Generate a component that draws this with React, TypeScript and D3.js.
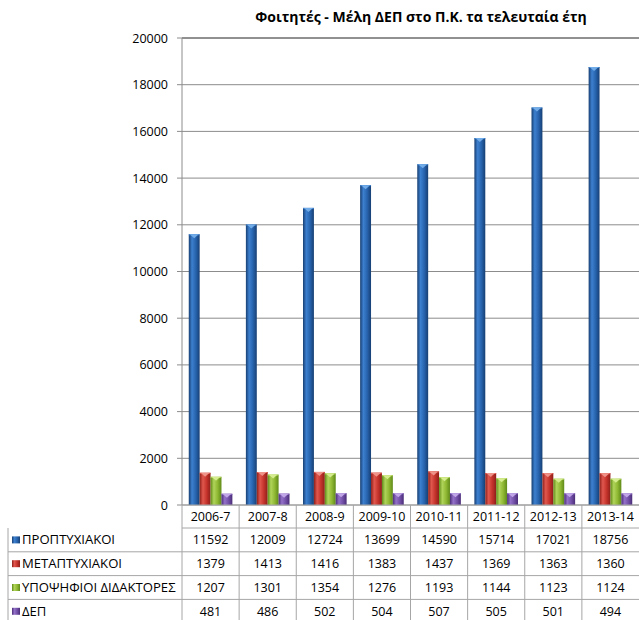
import React from "react";
import * as d3 from "d3";

const categories = ["2006-7", "2007-8", "2008-9", "2009-10", "2010-11", "2011-12", "2012-13", "2013-14"];
const seriesNames = ["ΠΡΟΠΤΥΧΙΑΚΟΙ", "ΜΕΤΑΠΤΥΧΙΑΚΟΙ", "ΥΠΟΨΗΦΙΟΙ ΔΙΔΑΚΤΟΡΕΣ", "ΔΕΠ"];
const undergrad = [11592, 12009, 12724, 13699, 14590, 15714, 17021, 18756];
const postgrad = [1379, 1413, 1416, 1383, 1437, 1369, 1363, 1360];
const phd = [1207, 1301, 1354, 1276, 1193, 1144, 1123, 1124];
const faculty = [481, 486, 502, 504, 507, 505, 501, 494];
const yTicks = [0, 2000, 4000, 6000, 8000, 10000, 12000, 14000, 16000, 18000, 20000];
const title = "Φοιτητές - Μέλη ΔΕΠ στο Π.Κ. τα τελευταία έτη";

const seriesValues = [undergrad, postgrad, phd, faculty];
const colors = [
  { dark: "#173f73", mid: "#2763ad", hi: "#3d80cf", light: "#79b3ec" },
  { dark: "#8e1f1a", mid: "#c4332c", hi: "#e0574e", light: "#f29a90" },
  { dark: "#5f8a18", mid: "#8fb833", hi: "#b0d45a", light: "#dcf197" },
  { dark: "#4a2d78", mid: "#7350a8", hi: "#9471c8", light: "#c7adec" },
];

const W = 639;
const H = 620;
const plotLeft = 182;
const plotRight = 639;
const plotTop = 38;
const plotBottom = 505;
const headerH = 23;
const rowH = 23.8;
const tableLeft = 8;
const font = "'Open Sans', sans-serif";

export default function App() {
  const x = d3.scaleBand<string>().domain(categories).range([plotLeft, plotRight]).paddingInner(0).paddingOuter(0);
  const y = d3.scaleLinear().domain([0, 20000]).range([plotBottom, plotTop]);
  const inner = d3.scaleBand<number>().domain([0, 1, 2, 3]).range([0, x.bandwidth()]).paddingInner(0).paddingOuter(0.62);
  const bw = inner.bandwidth();
  const rowTop = (r: number) => plotBottom + headerH + rowH * r;

  return (
    <svg width={W} height={H} style={{ position: "absolute", left: 0, top: 0, background: "#fff" }} fontFamily={font}>
      <defs>
        {colors.map((c, i) => (
          <linearGradient key={i} id={`g${i}`} x1="0" x2="1" y1="0" y2="0">
            <stop offset="0" stopColor={c.dark} />
            <stop offset="0.3" stopColor={c.hi} />
            <stop offset="0.65" stopColor={c.mid} />
            <stop offset="1" stopColor={c.dark} />
          </linearGradient>
        ))}
      </defs>
      <text x={421} y={22} textAnchor="middle" fontSize={14} fontWeight="bold" fill="#000">{title}</text>
      {yTicks.map((t) => (
        <g key={t}>
          <line x1={plotLeft} x2={plotRight} y1={y(t)} y2={y(t)} stroke={t === 20000 ? "#222" : "#8c8c8c"} strokeWidth={1} />
          <line x1={plotLeft - 5} x2={plotLeft} y1={y(t)} y2={y(t)} stroke="#8c8c8c" />
          <text x={168} y={y(t) + 4.5} textAnchor="end" fontSize={12.5} fill="#000">{t}</text>
        </g>
      ))}
      <line x1={plotLeft} x2={plotLeft} y1={plotTop} y2={plotBottom} stroke="#8c8c8c" />
      {categories.map((cat, ci) => (
        <g key={cat}>
          {seriesValues.map((vals, si) => {
            const bx = (x(cat) as number) + (inner(si) as number);
            const by = y(vals[ci]);
            const h = plotBottom - by;
            const bev = Math.min(3, h);
            return (
              <g key={si}>
                <rect x={bx} y={by} width={bw} height={h} fill={`url(#g${si})`} />
                <line x1={bx} x2={bx + bw} y1={by + 0.5} y2={by + 0.5} stroke={colors[si].hi} strokeWidth={1} />
                <polygon
                  points={`${bx + 1},${by} ${bx + bw - 1},${by} ${bx + bw * 0.5},${by + bev + 1}`}
                  fill={colors[si].light}
                  opacity={0.9}
                />
              </g>
            );
          })}
        </g>
      ))}
      <g stroke="#a6a6a6" strokeWidth={1} fill="none">
        <line x1={plotLeft} x2={plotRight} y1={plotBottom} y2={plotBottom} />
        {[0, 1, 2, 3, 4].map((r) => (
          <line key={r} x1={r === 0 ? plotLeft : tableLeft} x2={plotRight} y1={rowTop(r)} y2={rowTop(r)} />
        ))}
        <line x1={tableLeft} x2={tableLeft} y1={rowTop(0)} y2={H} />
        {categories.map((cat) => (
          <line key={cat} x1={x(cat) as number} x2={x(cat) as number} y1={plotBottom} y2={H} />
        ))}
      </g>
      {categories.map((cat) => (
        <text key={cat} x={(x(cat) as number) + x.bandwidth() / 2} y={plotBottom + headerH / 2 + 4.5} textAnchor="middle" fontSize={12.5} fill="#000">{cat}</text>
      ))}
      {seriesValues.map((vals, si) => {
        const ry = rowTop(si);
        return (
          <g key={si}>
            <rect x={tableLeft + 4} y={ry + rowH / 2 - 3.5} width={8} height={7} fill={`url(#g${si})`} />
            <text x={tableLeft + 14} y={ry + rowH / 2 + 4.5} fontSize={13.1} fill="#000">{seriesNames[si]}</text>
            {vals.map((v, ci) => (
              <text key={ci} x={(x(categories[ci]) as number) + x.bandwidth() / 2} y={ry + rowH / 2 + 4.5} textAnchor="middle" fontSize={12.5} fill="#000">{v}</text>
            ))}
          </g>
        );
      })}
    </svg>
  );
}
